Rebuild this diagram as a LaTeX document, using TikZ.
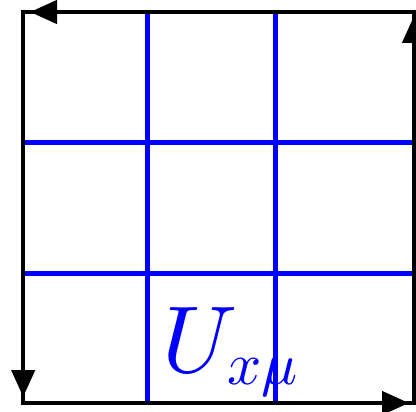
\documentclass[tikz,border=0pt]{standalone}
\usepackage{graphicx}
\usetikzlibrary{arrows.meta}
\tikzset{
  frame/.style={line width=4.5pt, black},
  gridline/.style={line width=4.5pt, blue},
  arr/.style={line width=4.5pt, black, -{Triangle[length=27pt,width=23pt]}},
}
\begin{document}
\begin{tikzpicture}[x=1pt,y=-1pt]
\useasboundingbox (0,0) rectangle (416,412);
% corners
\coordinate (TL) at (23.2,12);
\coordinate (TR) at (414,12);
\coordinate (BL) at (23.2,403);
\coordinate (BR) at (414,403);
% grid line ends
\coordinate (v1t) at (147.5,12);  \coordinate (v1b) at (147.5,403);
\coordinate (v2t) at (275.3,12);  \coordinate (v2b) at (275.3,403);
\coordinate (h1l) at (23.2,142.3); \coordinate (h1r) at (414,142.3);
\coordinate (h2l) at (23.2,273.5); \coordinate (h2r) at (414,273.5);
% blue grid
\draw[gridline] (v1t) -- (v1b);
\draw[gridline] (v2t) -- (v2b);
\draw[gridline] (h1l) -- (h1r);
\draw[gridline] (h2l) -- (h2r);
% frame
\draw[frame, line join=miter] (TL) -- (TR) -- (BR) -- (BL) -- cycle;
% arrows (counterclockwise)
\coordinate (aT) at (30,12);
\coordinate (aL) at (23.2,397);
\coordinate (aB) at (409,403);
\coordinate (aR) at (414,16);
\draw[arr] (TR) -- (aT);
\draw[arr] (TL) -- (aL);
\draw[arr] (BL) -- (aB);
\draw[arr] (BR) -- (aR);
% label
\node[blue, anchor=base west, inner sep=0pt] (lab) at (162,373)
  {\scalebox{9.5}{$U$}\kern-10.4pt\raisebox{-12pt}{\scalebox{6.0}{$x\mu$}}};
\end{tikzpicture}
\end{document}
